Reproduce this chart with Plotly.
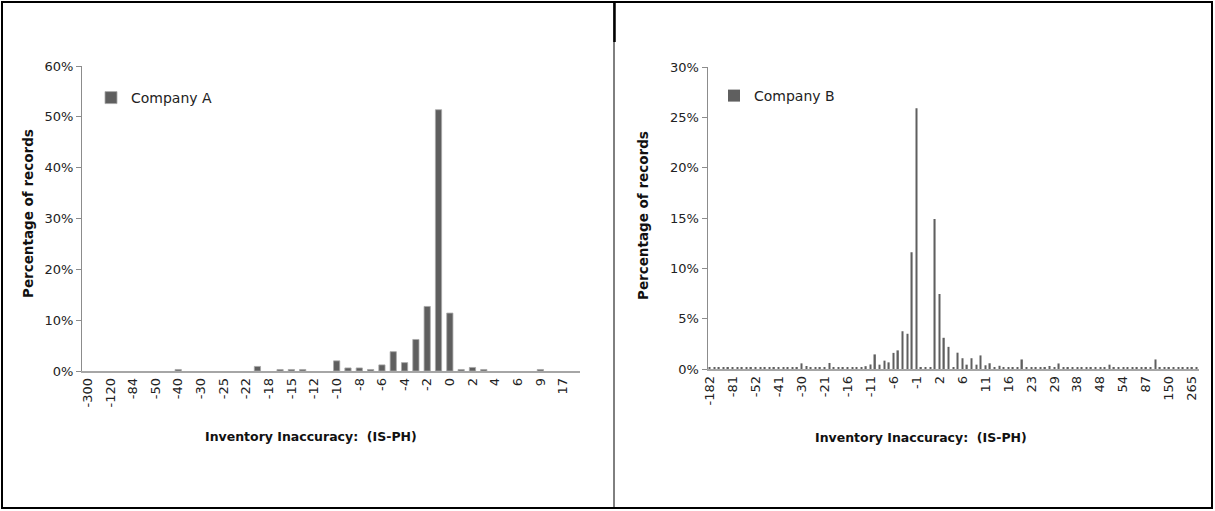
import plotly.graph_objects as go

# ---------------- Company A (left) ----------------
cats_a = ["-300", "-200", "-120", "-100", "-84", "-60", "-50", "-45", "-40", "-35",
          "-30", "-28", "-25", "-24", "-22", "-20", "-18", "-16", "-15", "-13",
          "-12", "-11", "-10", "-9", "-8", "-7", "-6", "-5", "-4", "-3",
          "-2", "-1", "0", "1", "2", "3", "4", "5", "6", "7",
          "9", "12", "17", "25"]
vals_a = [0, 0, 0, 0, 0, 0, 0, 0, 0.3, 0,
          0, 0, 0, 0, 0, 0.9, 0, 0.3, 0.3, 0.3,
          0, 0, 2.0, 0.6, 0.6, 0.3, 1.2, 3.8, 1.65, 6.2,
          12.7, 51.4, 11.4, 0.3, 0.7, 0.3, 0, 0, 0, 0,
          0.3, 0, 0, 0]
ticks_a = ["-300", "-120", "-84", "-50", "-40", "-30", "-25", "-22", "-18", "-15", "-12",
           "-10", "-8", "-6", "-4", "-2", "0", "2", "4", "6", "9", "17"]

# ---------------- Company B (right) ----------------
cats_b = ["-182", "-150", "-120", "-100", "-90", "-81", "-75", "-70", "-63", "-58",
          "-52", "-50", "-48", "-45", "-43", "-41", "-40", "-36", "-33", "-31",
          "-30", "-28", "-25", "-24", "-22", "-21", "-20", "-19", "-18", "-17",
          "-16", "-15", "-14", "-13", "-12", "-11", "-10", "-9", "-8", "-7",
          "-6", "-5", "-4", "-3", "-2", "-1", "-0.5", "0", "0.5", "1",
          "2", "3", "4", "4.5", "5", "6", "7", "8", "9", "10",
          "11", "12", "13", "14", "15", "16", "17", "18", "20", "22",
          "23", "24", "25", "27", "28", "29", "30", "32", "34", "36",
          "38", "40", "42", "44", "46", "48", "49", "50", "52", "53",
          "54", "56", "60", "70", "80", "87", "90", "100", "110", "120",
          "150", "170", "190", "200", "240", "265", "300"]
vals_b = [0.12, 0.12, 0.12, 0.12, 0.12, 0.12, 0.12, 0.12, 0.12, 0.12,
          0.12, 0.12, 0.12, 0.12, 0.12, 0.12, 0.12, 0.12, 0.12, 0.12,
          0.56, 0.3, 0.12, 0.12, 0.12, 0.12, 0.6, 0.12, 0.12, 0.12,
          0.12, 0.12, 0.12, 0.12, 0.28, 0.45, 1.45, 0.43, 0.83, 0.66,
          1.6, 1.85, 3.75, 3.5, 11.6, 25.9, 0.12, 0.12, 0.12, 14.9,
          7.45, 3.1, 2.2, 0.15, 1.62, 1.07, 0.43, 1.07, 0.43, 1.35,
          0.37, 0.57, 0.2, 0.32, 0.12, 0.12, 0.12, 0.12, 0.95, 0.12,
          0.12, 0.12, 0.12, 0.12, 0.3, 0.12, 0.55, 0.12, 0.12, 0.12,
          0.12, 0.12, 0.12, 0.12, 0.12, 0.12, 0.12, 0.43, 0.12, 0.12,
          0.12, 0.12, 0.12, 0.12, 0.12, 0.12, 0.12, 0.95, 0.12, 0.12,
          0.12, 0.12, 0.12, 0.12, 0.12, 0.12, 0.12]
ticks_b = ["-182", "-81", "-52", "-41", "-30", "-21", "-16", "-11", "-6", "-1", "2",
           "6", "11", "16", "23", "29", "38", "48", "54", "87", "150", "265"]

W, H = 1215, 511
FONT = "DejaVu Sans"
BAR = "#5f5f5f"


def px(x):
    return x / W


def py(y):
    return 1 - y / H


fig = go.Figure()
fig.add_trace(go.Bar(
    x=cats_a, y=[v if v > 0 else None for v in vals_a], name="Company A",
    width=0.55, marker=dict(color=BAR, line=dict(color="#a8a8a8", width=0.8)),
    xaxis="x", yaxis="y", legend="legend", showlegend=True))
fig.add_trace(go.Bar(
    x=cats_b, y=vals_b, name="Company B",
    width=0.3, marker=dict(color=BAR, line=dict(width=0)),
    xaxis="x2", yaxis="y2", legend="legend2", showlegend=True))

tickfont = dict(family=FONT, size=13, color="#222222")
axis_common = dict(showgrid=False, zeroline=False, automargin=False)

fig.update_layout(
    width=W, height=H,
    margin=dict(l=0, r=0, t=0, b=0, pad=0),
    paper_bgcolor="white", plot_bgcolor="white",
    font=dict(family=FONT, size=12, color="#222222"),
    xaxis=dict(domain=[px(82), px(580)], type="category", categoryorder="array",
               categoryarray=cats_a, tickmode="array", tickvals=ticks_a, ticktext=ticks_a,
               tickangle=-90, tickfont=tickfont, showline=True, linecolor="#a6a6a6",
               linewidth=1.5, ticks="", anchor="y", **axis_common),
    yaxis=dict(domain=[py(371), py(66)], range=[0, 60], dtick=10, ticksuffix="%",
               tickfont=tickfont, showline=True, linecolor="#8c8c8c", linewidth=1,
               ticks="outside", ticklen=5, tickcolor="#8c8c8c", anchor="x", **axis_common),
    xaxis2=dict(domain=[px(707.5), px(1199)], type="category", categoryorder="array",
                categoryarray=cats_b, tickmode="array", tickvals=ticks_b, ticktext=ticks_b,
                tickangle=-90, tickfont=tickfont, showline=True, linecolor="#a6a6a6",
                linewidth=1.5, ticks="", anchor="y2", **axis_common),
    yaxis2=dict(domain=[py(369), py(67)], range=[0, 30], dtick=5, ticksuffix="%",
                tickfont=tickfont, showline=True, linecolor="#8c8c8c", linewidth=1,
                ticks="outside", ticklen=5, tickcolor="#8c8c8c", anchor="x2", **axis_common),
    legend=dict(x=px(91), y=py(98), xanchor="left", yanchor="middle",
                bgcolor="rgba(0,0,0,0)", font=dict(family=FONT, size=14, color="#222222"),
                itemwidth=30, tracegroupgap=0),
    legend2=dict(x=px(714), y=py(96), xanchor="left", yanchor="middle",
                 bgcolor="rgba(0,0,0,0)", font=dict(family=FONT, size=14, color="#222222"),
                 itemwidth=30, tracegroupgap=0),
    showlegend=True,
)

annots = [
    dict(text="<b>Percentage of records</b>", x=px(28), y=py(214), textangle=-90, size=13.5),
    dict(text="<b>Inventory Inaccuracy:  (IS-PH)</b>", x=px(311), y=py(436), textangle=0, size=12.5),
    dict(text="<b>Percentage of records</b>", x=px(643), y=py(216), textangle=-90, size=13.5),
    dict(text="<b>Inventory Inaccuracy:  (IS-PH)</b>", x=px(921), y=py(437), textangle=0, size=12.5),
]
for a in annots:
    size = a.pop("size")
    fig.add_annotation(xref="paper", yref="paper", showarrow=False,
                       xanchor="center", yanchor="middle",
                       font=dict(family=FONT, size=size, color="#111111"), **a)

# frame lines of the surrounding table
shapes = [
    dict(type="rect", x0=px(2), x1=px(1212), y0=py(508), y1=py(2),
         line=dict(color="black", width=2)),
    dict(type="line", x0=px(614), x1=px(614), y0=py(508), y1=py(2),
         line=dict(color="black", width=1)),
    dict(type="line", x0=px(614.5), x1=px(614.5), y0=py(42), y1=py(2),
         line=dict(color="black", width=2.5)),
]
for s in shapes:
    fig.add_shape(xref="paper", yref="paper", **s)

fig.write_html("out.html",
               config={"displayModeBar": False},
               post_script="document.body.style.margin='0px';"
                           "document.body.style.overflow='hidden';")
